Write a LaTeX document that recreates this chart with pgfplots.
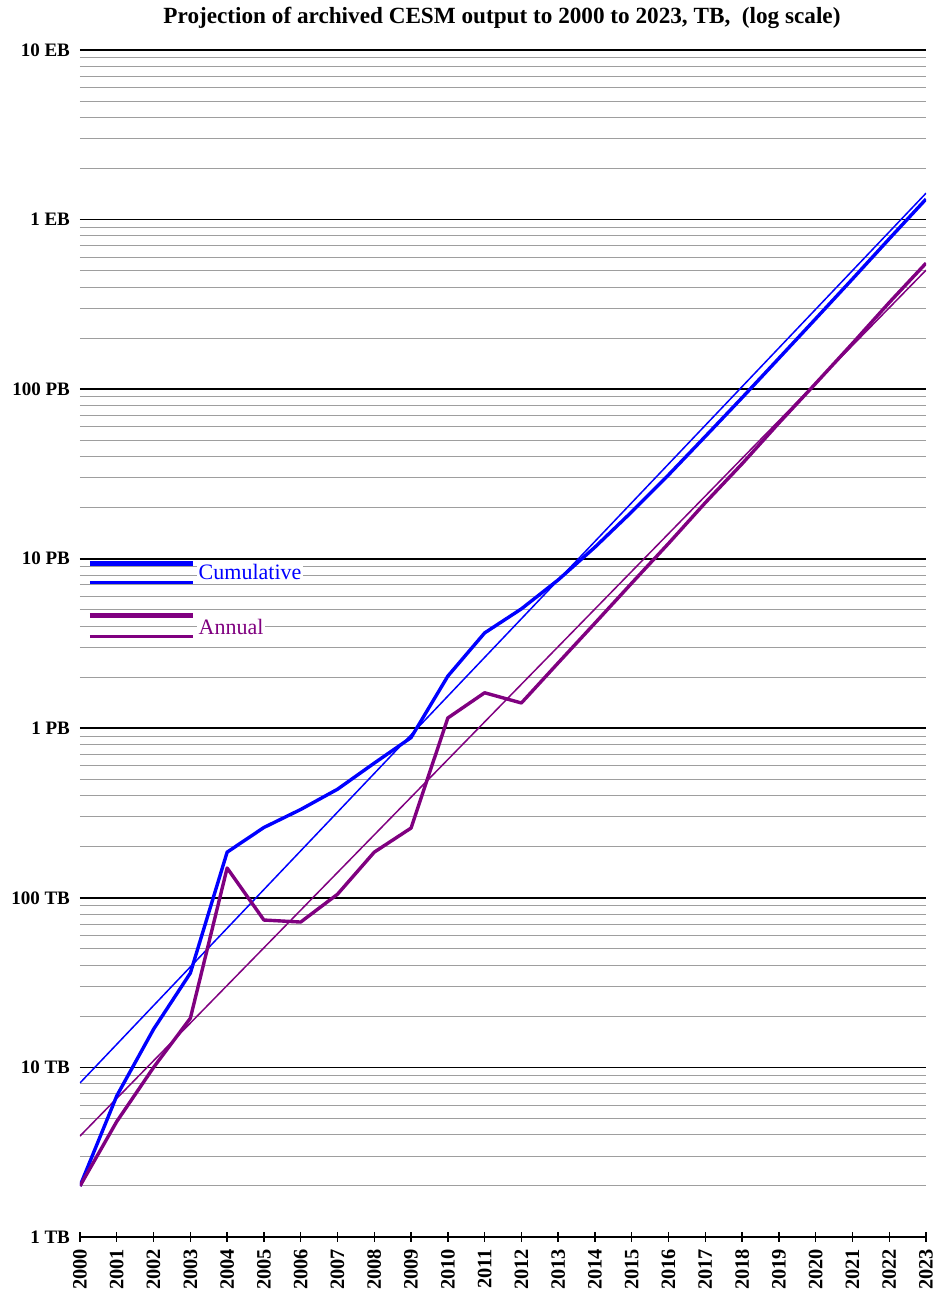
\documentclass[border=0pt]{standalone}
\usepackage{fontspec}
\setmainfont{Liberation Serif}
\usepackage{pgfplots}
\pgfplotsset{compat=1.18}
\definecolor{cblue}{RGB}{0,0,255}
\definecolor{cpurp}{RGB}{128,0,128}
\begin{document}
\begin{tikzpicture}
\path[use as bounding box] (-40pt,-29pt) rectangle (429pt,618.5pt);
\begin{axis}[
  at={(0,0)}, anchor=south west,
  scale only axis, width=423pt, height=593.5pt,
  xmin=2000, xmax=2023, ymin=1, ymax=1e7,
  ymode=log,
  axis lines*=left,
  x axis line style={black, line width=0.9pt},
  y axis line style={draw=none},
  xtick={2000,2001,...,2023},
  xticklabels={2000,2001,2002,2003,2004,2005,2006,2007,2008,2009,2010,2011,2012,2013,2014,2015,2016,2017,2018,2019,2020,2021,2022,2023},
  xticklabel style={rotate=90, anchor=east, font=\fontsize{10.2}{12}\selectfont\bfseries},
  xtick align=center,
  major tick length=5pt,
  xtick style={black, line width=0.7pt},
  ytick={1,10,100,1000,10000,100000,1000000,10000000},
  yticklabels={1 TB,10 TB,100 TB,1 PB,10 PB,100 PB,1 EB,10 EB},
  yticklabel style={font=\fontsize{9.5}{11}\selectfont\bfseries, xshift=-1.5pt},
  ytick style={draw=none},
  minor tick style={draw=none},
  ymajorgrids, yminorgrids,
  major grid style={black, line width=0.8pt},
  minor grid style={black!38, line width=0.5pt},
]
\addplot[cblue, line width=0.75pt] coordinates {(2000,8.1) (2023,1430000)};
\addplot[cpurp, line width=0.75pt] coordinates {(2000,3.94) (2023,503000)};
\addplot[cblue, line width=1.7pt, line join=round] coordinates {
(2000,2) (2001,6.8) (2002,16.8) (2003,36) (2004,186) (2005,260) (2006,332) (2007,437) (2008,623) (2009,881) (2010,2030) (2011,3650) (2012,5060) (2013,7500) (2014,11700) (2015,18900) (2016,31200) (2017,52600) (2018,89000) (2019,152000) (2020,260000) (2021,446000) (2022,770000) (2023,1320000)};
\addplot[cpurp, line width=1.7pt, line join=round] coordinates {
(2000,2) (2001,4.8) (2002,10) (2003,19.5) (2004,150) (2005,74) (2006,72) (2007,105) (2008,186) (2009,258) (2010,1150) (2011,1620) (2012,1410) (2013,2430) (2014,4170) (2015,7180) (2016,12300) (2017,21400) (2018,36300) (2019,63100) (2020,108000) (2021,186000) (2022,324000) (2023,553000)};
% legend
\node[cblue, anchor=west, fill=white, inner sep=1pt, font=\fontsize{11}{13}\selectfont] at (rel axis cs:0.1375,0.5602) {Cumulative};
\draw[cblue, line width=2.5pt] (rel axis cs:0.0118,0.5678) -- (rel axis cs:0.1336,0.5678);
\draw[cblue, line width=1.5pt] (rel axis cs:0.0118,0.5518) -- (rel axis cs:0.1336,0.5518);
\node[cpurp, anchor=west, fill=white, inner sep=1pt, font=\fontsize{11}{13}\selectfont] at (rel axis cs:0.1375,0.5139) {Annual};
\draw[cpurp, line width=2.5pt] (rel axis cs:0.0118,0.5232) -- (rel axis cs:0.1336,0.5232);
\draw[cpurp, line width=1.5pt] (rel axis cs:0.0118,0.5055) -- (rel axis cs:0.1336,0.5055);
\end{axis}
\node[font=\fontsize{11.6}{13}\selectfont\bfseries] at (211pt,609.5pt) {Projection of archived CESM output to 2000 to 2023, TB,\ \ (log scale)};
\end{tikzpicture}
\end{document}
